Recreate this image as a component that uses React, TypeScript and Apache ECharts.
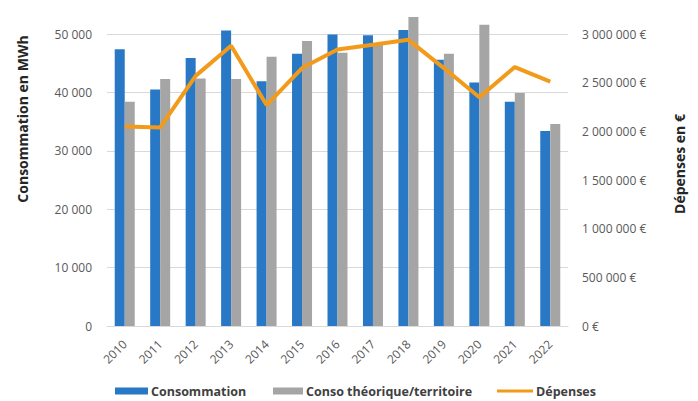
import React, { useEffect, useRef } from "react";
import * as echarts from "echarts";

const years = ["2010","2011","2012","2013","2014","2015","2016","2017","2018","2019","2020","2021","2022"];
const consommation = [47400, 40500, 45900, 50600, 41900, 46600, 49900, 49800, 50700, 45600, 41700, 38400, 33400];
const consoTheorique = [38400, 42300, 42400, 42300, 46100, 48800, 46800, 48200, 52900, 46600, 51600, 39900, 34600];
const depenses = [2050000, 2040000, 2570000, 2880000, 2270000, 2650000, 2840000, 2890000, 2940000, 2650000, 2350000, 2660000, 2510000];

const fmt = (v: number) => String(Math.round(v)).replace(/\B(?=(\d{3})+(?!\d))/g, " ");

const FONT = "'Open Sans', sans-serif";
const BLUE = "#2878C6";
const GRAY = "#A5A5A5";
const ORANGE = "#F29B1B";

export default function App() {
  const ref = useRef<HTMLDivElement>(null);
  useEffect(() => {
    document.body.style.margin = "0";
    const chart = echarts.init(ref.current!, null, { renderer: "svg" });
    const legText = { fontFamily: FONT, fontSize: 12.5, fontWeight: "bold", color: "#404040", padding: [0, 0, 0, -2], lineHeight: 14 };
    const legBase = { top: 384, padding: [0, 0, 0, 5], itemHeight: 7, textStyle: legText };
    chart.setOption({
      animation: false,
      backgroundColor: "#ffffff",
      textStyle: { fontFamily: FONT },
      grid: { left: 107, right: 130, top: 34, bottom: 75 },
      legend: [
        { ...legBase, left: 110, itemWidth: 33, icon: "rect", data: ["Consommation"] },
        { ...legBase, left: 268, itemWidth: 30, icon: "rect", data: ["Conso théorique/territoire"] },
        { ...legBase, left: 492, itemWidth: 36, itemHeight: 3, data: [{ name: "Dépenses", icon: "rect" }] },
      ],
      xAxis: {
        type: "category",
        data: years,
        axisTick: { show: false },
        axisLine: { lineStyle: { color: "#D9D9D9", width: 1 } },
        axisLabel: { rotate: 45, color: "#595959", fontSize: 12, fontFamily: FONT, margin: 16 },
      },
      yAxis: [
        {
          type: "value", min: 0, max: 50000, interval: 10000,
          axisLabel: { color: "#595959", fontSize: 12, fontFamily: FONT, margin: 15, formatter: (v: number) => fmt(v) },
          splitLine: { lineStyle: { color: "#D9D9D9" } },
          axisLine: { show: false }, axisTick: { show: false },
        },
        {
          type: "value", min: 0, max: 3000000, interval: 500000, position: "right",
          axisLabel: { color: "#595959", fontSize: 12, fontFamily: FONT, margin: 14, formatter: (v: number) => fmt(v) + " €" },
          splitLine: { show: false },
          axisLine: { show: false }, axisTick: { show: false },
        },
      ],
      graphic: [
        {
          type: "text", x: 22, y: 119, rotation: Math.PI / 2,
          style: { text: "Consommation en MWh", fontFamily: FONT, fontSize: 14, fontWeight: "bold", fill: "#262626", align: "center", verticalAlign: "middle" },
        },
        {
          type: "text", x: 679, y: 164, rotation: Math.PI / 2,
          style: { text: "Dépenses en €", fontFamily: FONT, fontSize: 14, fontWeight: "bold", fill: "#262626", align: "center", verticalAlign: "middle" },
        },
      ],
      series: [
        {
          name: "Consommation", type: "bar", data: consommation, yAxisIndex: 0,
          barWidth: 10, barGap: "0%", clip: false,
          itemStyle: { color: BLUE },
        },
        {
          name: "Conso théorique/territoire", type: "bar", data: consoTheorique, yAxisIndex: 0,
          barWidth: 10, barGap: "0%", clip: false,
          itemStyle: { color: GRAY },
        },
        {
          name: "Dépenses", type: "line", data: depenses, yAxisIndex: 1,
          showSymbol: false, symbol: "none", clip: false,
          lineStyle: { color: ORANGE, width: 4 }, itemStyle: { color: ORANGE },
        },
      ],
    });
    return () => chart.dispose();
  }, []);
  return <div ref={ref} style={{ position: "fixed", left: 0, top: 0, width: 698, height: 401 }} />;
}
